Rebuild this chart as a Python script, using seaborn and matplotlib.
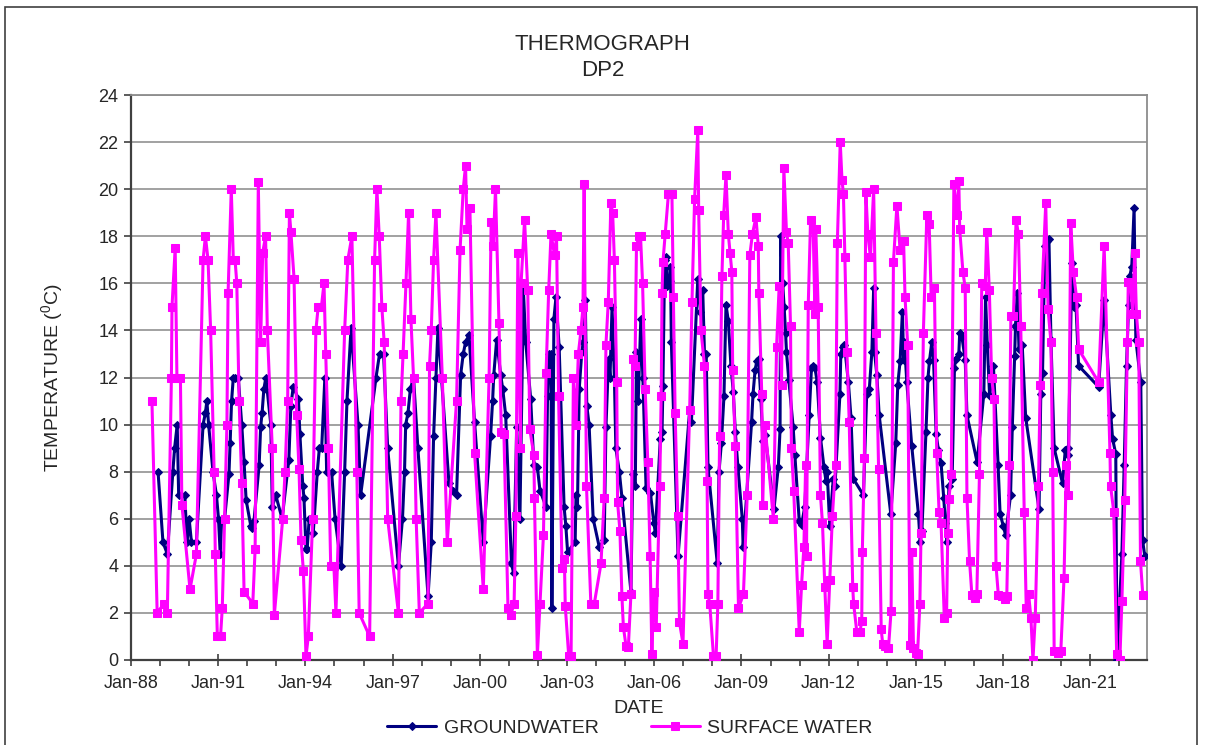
import numpy as np
import pandas as pd
import matplotlib
matplotlib.use("Agg")
import matplotlib.pyplot as plt
import matplotlib.dates as mdates
from matplotlib.patches import Rectangle
import seaborn as sns

# Sample times in years since 1 Jan 1988, temperatures in deg C
gw_t = [0.93, 1.10, 1.25, 1.44, 1.50, 1.59, 1.64, 1.85, 1.93, 2.00, 2.08, 2.25,
        2.48, 2.56, 2.61, 2.67, 2.82, 2.94, 3.01, 3.07, 3.12, 3.22, 3.37, 3.41,
        3.46, 3.52, 3.58, 3.69, 3.81, 3.89, 3.96, 4.12, 4.16, 4.23, 4.41, 4.46,
        4.51, 4.57, 4.64, 4.81, 4.86, 4.98, 5.20, 5.43, 5.50, 5.58, 5.76, 5.81,
        5.91, 5.95, 6.02, 6.06, 6.13, 6.21, 6.27, 6.41, 6.48, 6.56, 6.67, 6.73,
        6.90, 7.02, 7.23, 7.35, 7.43, 7.57, 7.81, 7.90, 8.43, 8.55, 8.69, 8.83,
        9.20, 9.34, 9.41, 9.45, 9.53, 9.61, 9.72, 9.87, 10.22, 10.33, 10.41, 10.49,
        10.56, 10.68, 10.94, 11.09, 11.20, 11.34, 11.43, 11.51, 11.63, 11.82, 12.12, 12.37,
        12.44, 12.48, 12.58, 12.72, 12.79, 12.89, 13.09, 13.16, 13.27, 13.38, 13.50, 13.58,
        13.75, 13.86, 13.98, 14.07, 14.28, 14.33, 14.39, 14.45, 14.48, 14.55, 14.62, 14.73,
        14.90, 14.96, 15.02, 15.28, 15.31, 15.36, 15.42, 15.51, 15.56, 15.63, 15.68, 15.76,
        15.90, 16.11, 16.28, 16.34, 16.43, 16.48, 16.55, 16.63, 16.68, 16.80, 16.89, 17.20,
        17.26, 17.35, 17.39, 17.45, 17.54, 17.61, 17.72, 17.87, 17.99, 18.04, 18.21, 18.27,
        18.30, 18.36, 18.42, 18.45, 18.53, 18.56, 18.59, 18.82, 19.22, 19.28, 19.50, 19.59,
        19.67, 19.73, 19.79, 19.85, 20.17, 20.23, 20.31, 20.40, 20.47, 20.55, 20.64, 20.72,
        20.79, 20.88, 21.03, 21.06, 21.35, 21.40, 21.47, 21.53, 21.59, 21.67, 21.74, 21.82,
        22.12, 22.27, 22.33, 22.35, 22.42, 22.47, 22.52, 22.55, 22.63, 22.78, 22.84, 22.99,
        23.07, 23.18, 23.33, 23.41, 23.47, 23.53, 23.61, 23.72, 23.84, 23.91, 23.95, 24.04,
        24.16, 24.22, 24.39, 24.42, 24.48, 24.52, 24.57, 24.68, 24.77, 24.85, 25.20, 25.31,
        25.40, 25.49, 25.55, 25.58, 25.66, 25.74, 26.14, 26.31, 26.38, 26.46, 26.54, 26.58,
        26.61, 26.69, 26.86, 27.09, 27.15, 27.21, 27.35, 27.42, 27.47, 27.55, 27.61, 27.70,
        27.78, 27.87, 27.96, 28.02, 28.08, 28.14, 28.25, 28.33, 28.37, 28.48, 28.51, 28.59,
        28.70, 28.76, 29.11, 29.34, 29.40, 29.46, 29.54, 29.67, 29.83, 29.90, 30.01, 30.09,
        30.26, 30.32, 30.40, 30.43, 30.49, 30.55, 30.66, 30.78, 31.24, 31.30, 31.36, 31.44,
        31.52, 31.58, 31.65, 31.76, 32.05, 32.14, 32.22, 32.25, 32.37, 32.45, 32.51, 32.60,
        33.29, 33.48, 33.71, 33.77, 33.88, 33.92, 34.09, 34.17, 34.25, 34.32, 34.36, 34.43,
        34.51, 34.57, 34.74, 34.80, 34.88]
gw_temp = [8.0, 5.0, 4.5, 8.0, 9.0, 10.0, 7.0, 7.0, 5.0, 6.0, 5.0, 5.0,
           10.0, 10.5, 11.0, 10.0, 8.0, 7.0, 6.0, 4.5, 6.0, 6.0, 7.9, 9.2,
           11.0, 12.0, 12.0, 12.0, 10.0, 8.4, 6.8, 5.7, 5.6, 5.9, 8.3, 9.9,
           10.5, 11.5, 12.0, 10.0, 6.5, 7.0, 6.0, 8.5, 10.8, 11.6, 11.1, 9.6,
           7.4, 6.9, 4.7, 4.7, 6.0, 6.05, 5.4, 8.0, 9.0, 9.0, 12.0, 8.0,
           8.0, 6.0, 4.0, 8.0, 11.0, 14.1, 10.0, 7.0, 12.0, 13.0, 13.0, 9.0,
           4.0, 6.0, 8.0, 10.0, 10.5, 11.5, 12.0, 9.0, 2.7, 5.0, 9.5, 12.0,
           14.1, 12.0, 7.5, 7.2, 7.0, 12.1, 13.0, 13.5, 13.8, 10.1, 5.0, 9.5,
           11.0, 12.1, 13.6, 12.1, 11.5, 10.4, 4.1, 3.7, 9.9, 6.0, 15.7, 13.5,
           11.1, 8.3, 8.2, 7.2, 6.5, 11.2, 13.0, 13.0, 2.2, 14.5, 15.4, 13.3,
           6.5, 5.7, 4.6, 5.0, 7.0, 6.5, 11.5, 13.1, 13.5, 15.3, 10.8, 10.0,
           6.0, 4.8, 5.1, 9.9, 12.8, 12.0, 15.0, 12.0, 9.0, 8.0, 6.9, 2.9,
           7.9, 7.4, 13.1, 11.0, 14.5, 12.0, 7.3, 7.1, 5.8, 5.4, 9.4, 9.7,
           11.65, 17.0, 17.1, 15.9, 16.1, 16.7, 13.5, 4.4, 10.6, 10.1, 16.2, 14.8,
           15.7, 13.0, 13.0, 8.2, 4.1, 8.0, 9.2, 11.2, 15.1, 14.4, 12.5, 11.4,
           9.7, 8.2, 6.0, 4.8, 10.1, 11.3, 12.3, 12.7, 12.8, 11.1, 9.3, 9.55,
           6.4, 8.2, 9.8, 18.0, 16.0, 15.0, 13.9, 13.1, 11.9, 9.9, 8.7, 5.9,
           5.75, 6.5, 10.4, 12.4, 12.5, 12.4, 11.8, 9.45, 8.2, 7.6, 8.0, 5.7,
           7.7, 7.4, 11.3, 13.0, 13.3, 13.4, 13.1, 11.8, 10.3, 7.7, 7.0, 11.3,
           11.5, 13.1, 15.8, 13.1, 12.1, 10.4, 6.2, 9.2, 11.7, 12.7, 14.8, 12.75,
           13.5, 11.8, 9.1, 6.2, 5.0, 5.5, 9.7, 12.0, 12.7, 13.5, 12.75, 9.6,
           8.9, 8.35, 6.9, 5.8, 5.0, 7.4, 7.7, 12.4, 12.8, 13.0, 13.9, 13.7,
           12.75, 10.4, 8.4, 11.3, 15.4, 13.4, 11.2, 12.5, 8.3, 6.2, 5.7, 5.3,
           7.0, 9.9, 12.9, 14.2, 15.6, 13.2, 13.4, 10.3, 6.4, 11.3, 12.2, 17.6,
           17.8, 17.9, 13.6, 9.0, 7.5, 8.9, 9.0, 8.7, 16.85, 15.0, 15.1, 12.5,
           11.6, 15.3, 10.4, 9.4, 8.75, 0.0, 4.5, 8.3, 12.5, 15.1, 16.3, 16.7,
           19.2, 13.6, 11.8, 5.1, 4.4]

sw_t = [0.72, 0.90, 1.14, 1.25, 1.39, 1.41, 1.52, 1.58, 1.70, 1.75, 2.03, 2.25,
        2.48, 2.56, 2.65, 2.74, 2.86, 2.90, 2.97, 3.08, 3.14, 3.22, 3.30, 3.34,
        3.45, 3.52, 3.58, 3.64, 3.72, 3.81, 3.89, 4.19, 4.27, 4.38, 4.46, 4.53,
        4.63, 4.69, 4.86, 4.93, 5.22, 5.30, 5.39, 5.45, 5.50, 5.61, 5.70, 5.78,
        5.85, 5.93, 6.02, 6.10, 6.25, 6.36, 6.44, 6.55, 6.64, 6.70, 6.79, 6.87,
        6.98, 7.05, 7.35, 7.46, 7.60, 7.77, 7.85, 8.21, 8.38, 8.46, 8.54, 8.63,
        8.71, 8.83, 9.20, 9.29, 9.36, 9.46, 9.55, 9.63, 9.72, 9.81, 9.92, 10.22,
        10.27, 10.33, 10.41, 10.49, 10.71, 10.88, 11.20, 11.32, 11.43, 11.51, 11.56, 11.66,
        11.82, 12.12, 12.32, 12.39, 12.46, 12.54, 12.66, 12.74, 12.83, 12.97, 13.06, 13.18,
        13.24, 13.31, 13.40, 13.42, 13.54, 13.65, 13.72, 13.86, 13.88, 13.98, 14.07, 14.19,
        14.28, 14.37, 14.45, 14.57, 14.64, 14.71, 14.83, 14.91, 14.94, 15.06, 15.14, 15.22,
        15.31, 15.39, 15.48, 15.55, 15.59, 15.67, 15.82, 15.94, 16.17, 16.28, 16.34, 16.42,
        16.51, 16.57, 16.63, 16.71, 16.74, 16.82, 16.89, 16.94, 17.03, 17.11, 17.20, 17.26,
        17.34, 17.39, 17.48, 17.53, 17.60, 17.69, 17.78, 17.86, 17.92, 17.98, 18.07, 18.19,
        18.24, 18.27, 18.30, 18.38, 18.49, 18.61, 18.66, 18.72, 18.81, 18.87, 18.99, 19.22,
        19.30, 19.39, 19.50, 19.53, 19.61, 19.73, 19.82, 19.85, 19.91, 20.04, 20.13, 20.19,
        20.25, 20.33, 20.39, 20.47, 20.55, 20.61, 20.67, 20.70, 20.79, 20.90, 21.07, 21.20,
        21.29, 21.38, 21.50, 21.58, 21.60, 21.70, 21.73, 21.81, 22.10, 22.21, 22.30, 22.38,
        22.46, 22.55, 22.61, 22.69, 22.72, 22.80, 22.99, 23.07, 23.15, 23.21, 23.24, 23.30,
        23.38, 23.47, 23.53, 23.56, 23.64, 23.72, 23.79, 23.87, 23.95, 24.04, 24.13, 24.24,
        24.30, 24.40, 24.46, 24.51, 24.56, 24.63, 24.71, 24.83, 24.86, 24.97, 25.08, 25.14,
        25.16, 25.23, 25.28, 25.35, 25.44, 25.55, 25.63, 25.72, 25.81, 25.86, 25.95, 26.06,
        26.15, 26.23, 26.35, 26.46, 26.58, 26.63, 26.72, 26.80, 26.86, 26.92, 27.00, 27.06,
        27.14, 27.18, 27.26, 27.38, 27.46, 27.53, 27.64, 27.72, 27.80, 27.87, 27.98, 28.06,
        28.10, 28.14, 28.22, 28.31, 28.42, 28.48, 28.51, 28.62, 28.70, 28.76, 28.85, 28.93,
        29.05, 29.10, 29.19, 29.27, 29.39, 29.44, 29.53, 29.61, 29.69, 29.76, 29.84, 29.95,
        30.07, 30.13, 30.22, 30.27, 30.36, 30.45, 30.53, 30.61, 30.73, 30.80, 30.88, 30.96,
        31.03, 31.11, 31.22, 31.28, 31.34, 31.47, 31.55, 31.65, 31.71, 31.76, 31.88, 31.99,
        32.10, 32.18, 32.25, 32.33, 32.42, 32.53, 32.60, 33.29, 33.48, 33.68, 33.70, 33.81,
        33.91, 34.02, 34.09, 34.19, 34.28, 34.31, 34.39, 34.46, 34.53, 34.59, 34.67, 34.73,
        34.81]
sw_temp = [11.0, 2.0, 2.4, 2.0, 12.0, 15.0, 17.5, 12.0, 12.0, 6.6, 3.0, 4.5,
           17.0, 18.0, 17.0, 14.0, 8.0, 4.5, 1.0, 1.0, 2.2, 6.0, 10.0, 15.6,
           20.0, 17.0, 17.0, 16.0, 11.0, 7.5, 2.9, 2.4, 4.7, 20.3, 13.5, 17.3,
           18.0, 14.0, 9.0, 1.9, 6.0, 8.0, 11.0, 19.0, 18.2, 16.2, 10.4, 8.1,
           5.1, 3.8, 0.15, 1.0, 6.0, 14.0, 15.0, 15.0, 16.0, 13.0, 9.0, 4.0,
           4.0, 2.0, 14.0, 17.0, 18.0, 8.0, 2.0, 1.0, 17.0, 20.0, 18.0, 15.0,
           13.5, 6.0, 2.0, 11.0, 13.0, 16.0, 19.0, 14.5, 12.0, 6.0, 2.0, 2.4,
           12.5, 14.0, 17.0, 19.0, 12.0, 5.0, 11.0, 17.4, 20.0, 21.0, 18.3, 19.2,
           8.8, 3.0, 12.0, 18.6, 17.6, 20.0, 14.3, 9.7, 9.6, 2.2, 1.9, 2.4,
           6.1, 17.3, 9.0, 16.0, 18.7, 15.7, 9.8, 8.7, 6.9, 0.2, 2.4, 5.3,
           12.2, 15.7, 18.1, 17.2, 18.0, 11.2, 3.9, 4.3, 2.3, 0.15, 0.15, 12.0,
           10.0, 13.0, 14.0, 15.0, 20.2, 7.4, 2.4, 2.4, 4.1, 6.9, 13.4, 15.2,
           19.4, 19.0, 17.0, 11.8, 6.7, 5.5, 2.7, 1.4, 0.6, 0.55, 2.8, 12.8,
           12.5, 17.6, 18.0, 18.0, 16.0, 11.5, 8.4, 4.4, 0.25, 2.9, 1.4, 7.4,
           11.2, 15.6, 16.9, 18.1, 19.8, 19.8, 15.4, 10.5, 6.1, 1.6, 0.7, 10.6,
           15.2, 19.6, 22.5, 19.1, 14.0, 12.5, 7.6, 2.8, 2.4, 0.15, 0.15, 2.4,
           9.5, 16.3, 18.9, 20.6, 18.1, 17.3, 16.5, 12.3, 9.1, 2.2, 2.8, 7.0,
           17.2, 18.1, 18.8, 17.6, 15.6, 11.3, 6.6, 10.0, 6.0, 13.3, 15.9, 11.7,
           20.9, 18.2, 17.7, 14.2, 9.0, 7.2, 1.2, 3.2, 4.8, 8.3, 4.4, 15.1,
           18.7, 18.3, 14.7, 18.3, 15.0, 7.0, 5.8, 3.1, 0.7, 3.4, 6.1, 8.3,
           17.7, 22.0, 20.4, 19.8, 17.1, 13.1, 10.1, 3.1, 2.4, 1.2, 1.2, 1.65,
           4.6, 8.6, 19.9, 18.1, 17.1, 20.0, 13.9, 8.1, 1.3, 0.7, 0.6, 0.5,
           2.1, 16.9, 19.3, 17.4, 17.8, 15.4, 13.4, 0.65, 4.6, 0.5, 0.3, 0.25,
           2.4, 5.4, 13.9, 18.9, 18.5, 15.4, 15.8, 8.8, 6.3, 5.8, 1.8, 2.0,
           5.4, 6.85, 7.9, 20.2, 18.9, 20.35, 18.3, 16.5, 15.8, 6.9, 4.2, 2.75,
           2.65, 2.8, 7.9, 16.0, 15.9, 18.2, 15.7, 12.0, 11.1, 4.0, 2.75, 2.7,
           2.6, 2.7, 8.3, 14.6, 14.6, 18.7, 18.1, 14.2, 6.3, 2.2, 2.8, 1.8,
           0.0, 1.8, 7.4, 11.7, 15.6, 19.4, 14.9, 13.5, 8.0, 0.4, 0.3, 0.4,
           3.5, 8.3, 7.0, 18.55, 16.5, 15.4, 13.2, 11.8, 17.6, 8.8, 7.4, 6.3,
           0.25, 0.0, 2.5, 6.8, 13.5, 16.05, 16.0, 14.7, 17.3, 14.7, 13.5, 4.2,
           2.75]

# Axis tick years
major_years = list(range(1988, 2022, 3))
minor_years = list(range(1988, 2023))

GW_LABEL = "GROUNDWATER"
SW_LABEL = "SURFACE WATER"

origin = pd.Timestamp("1988-01-01")


def to_dates(years):
    return origin + pd.to_timedelta(np.asarray(years) * 365.25, unit="D")


gw = pd.DataFrame({"date": to_dates(gw_t), "temp": gw_temp})
sw = pd.DataFrame({"date": to_dates(sw_t), "temp": sw_temp})

sns.set_theme(style="white")
plt.rcParams["font.family"] = ["Liberation Sans", "DejaVu Sans"]
plt.rcParams["mathtext.fontset"] = "custom"
plt.rcParams["mathtext.rm"] = "Liberation Sans"

W, H = 1205, 745
fig = plt.figure(figsize=(W / 100, H / 100), dpi=100)
fig.patch.set_facecolor("white")
ax = fig.add_axes([131 / W, 1 - 660 / H, (1147 - 131) / W, (660 - 95) / H])

# chart area frame
fig.patches.append(Rectangle((5 / W, -0.02), 1192 / W, 1 - 7 / H + 0.02,
                             transform=fig.transFigure, fill=False,
                             edgecolor="#404040", linewidth=1.2, zorder=0))

navy = "#000080"
magenta = "#FF00FF"

sns.lineplot(data=gw, x="date", y="temp", ax=ax, color=navy, linewidth=2.2,
             marker="D", markersize=4, markeredgecolor=navy, estimator=None,
             sort=False, label=GW_LABEL, zorder=3)
sns.lineplot(data=sw, x="date", y="temp", ax=ax, color=magenta, linewidth=2.2,
             marker="s", markersize=6, markeredgecolor=magenta, estimator=None,
             sort=False, label=SW_LABEL, zorder=4)

ax.set_xlim(origin, pd.Timestamp("2022-12-15"))
ax.set_ylim(0, 24)
ax.set_yticks(np.arange(0, 25, 2))
ax.grid(axis="y", color="#9a9a9a", linewidth=1.3)
ax.grid(axis="x", visible=False)
ax.set_axisbelow(True)

major_dates = [pd.Timestamp(f"{y}-01-01") for y in major_years]
minor_dates = [pd.Timestamp(f"{y}-01-01") for y in minor_years]
ax.set_xticks(major_dates)
ax.set_xticks(minor_dates, minor=True)
ax.xaxis.set_major_formatter(mdates.DateFormatter("%b-%y"))
ax.tick_params(axis="x", which="major", direction="inout", length=9, width=1.2,
               color="#404040", labelsize=13, pad=6, bottom=True)
ax.tick_params(axis="x", which="minor", direction="out", length=4, width=1.2,
               color="#404040", bottom=True)
ax.tick_params(axis="y", which="major", direction="out", length=5, width=1.2,
               color="#404040", labelsize=13, pad=4, left=True)

for side in ("top", "right"):
    ax.spines[side].set_color("#8c8c8c")
    ax.spines[side].set_linewidth(1.3)
for side in ("left", "bottom"):
    ax.spines[side].set_color("#404040")
    ax.spines[side].set_linewidth(1.6)

ax.set_xlabel("DATE", fontsize=14, labelpad=6)
ax.set_ylabel(r"TEMPERATURE ($\mathregular{^0}$C)", fontsize=14, labelpad=24)

fig.text(0.5, 1 - 45 / H, "THERMOGRAPH", ha="center", va="center", fontsize=16)
fig.text(0.5, 1 - 70 / H, "DP2", ha="center", va="center", fontsize=16)

handles, labels = ax.get_legend_handles_labels()
ax.legend_.remove()
fig.legend(handles, labels, loc="center", bbox_to_anchor=(630 / W, 1 - 728 / H),
           ncol=2, frameon=False, fontsize=14, handlelength=2.5,
           columnspacing=2.7, handletextpad=0.4, borderaxespad=0)

fig.savefig("out.png", dpi=100, facecolor="white")
